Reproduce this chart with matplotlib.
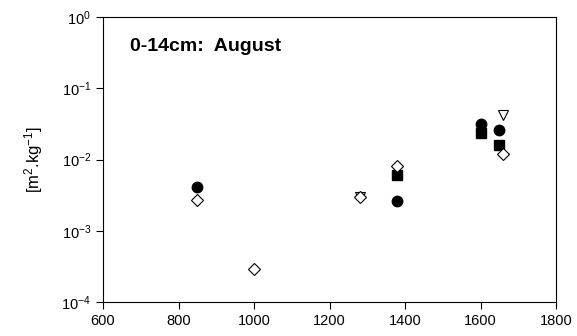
import matplotlib
matplotlib.use('Agg')
import matplotlib.pyplot as plt

plt.rcParams['font.family'] = ['Liberation Sans', 'DejaVu Sans']
plt.rcParams['mathtext.fontset'] = 'custom'
plt.rcParams['mathtext.rm'] = 'Liberation Sans'
plt.rcParams['mathtext.it'] = 'Liberation Sans:italic'
plt.rcParams['mathtext.bf'] = 'Liberation Sans:bold'

# data
circ_x = [850, 1380, 1600, 1650]
circ_y = [0.0041, 0.0026, 0.032, 0.026]
sq_x = [1380, 1600, 1650]
sq_y = [0.006, 0.0235, 0.016]
dia_x = [850, 1000, 1280, 1380, 1660]
dia_y = [0.0027, 0.00029, 0.003, 0.0082, 0.012]
tri_x = [1280, 1660]
tri_y = [0.003, 0.042]

fig = plt.figure(figsize=(5.77, 3.36), dpi=100)
ax = fig.add_axes([103 / 577, 34 / 336, 453 / 577, 285 / 336])

ax.plot(tri_x, tri_y, 'v', ms=7, mfc='white', mec='black', mew=0.8, ls='none')
ax.plot(sq_x, sq_y, 's', ms=6.5, color='black', ls='none')
ax.plot(circ_x, circ_y, 'o', ms=7.5, color='black', ls='none')
ax.plot(dia_x, dia_y, 'D', ms=6.5, mfc='white', mec='black', mew=0.8, ls='none')

ax.set_yscale('log')
ax.set_xlim(600, 1800)
ax.set_ylim(1e-4, 1)
ax.set_xticks([600, 800, 1000, 1200, 1400, 1600, 1800])
ax.set_yticks([1e-4, 1e-3, 1e-2, 1e-1, 1])
ax.set_yticklabels(['10$^{-4}$', '10$^{-3}$', '10$^{-2}$', '10$^{-1}$', '10$^{0}$'])
ax.minorticks_off()
ax.tick_params(direction='out', length=5, width=0.8, labelsize=10.5)
for s in ax.spines.values():
    s.set_linewidth(0.8)

ax.set_ylabel('[m$^{2}$.kg$^{-1}$]', fontsize=12, labelpad=12)
ax.text(0.06, 0.898, '0-14cm:  August', transform=ax.transAxes,
        fontsize=14, fontweight='bold', va='center')

fig.savefig('out.png', dpi=100)
